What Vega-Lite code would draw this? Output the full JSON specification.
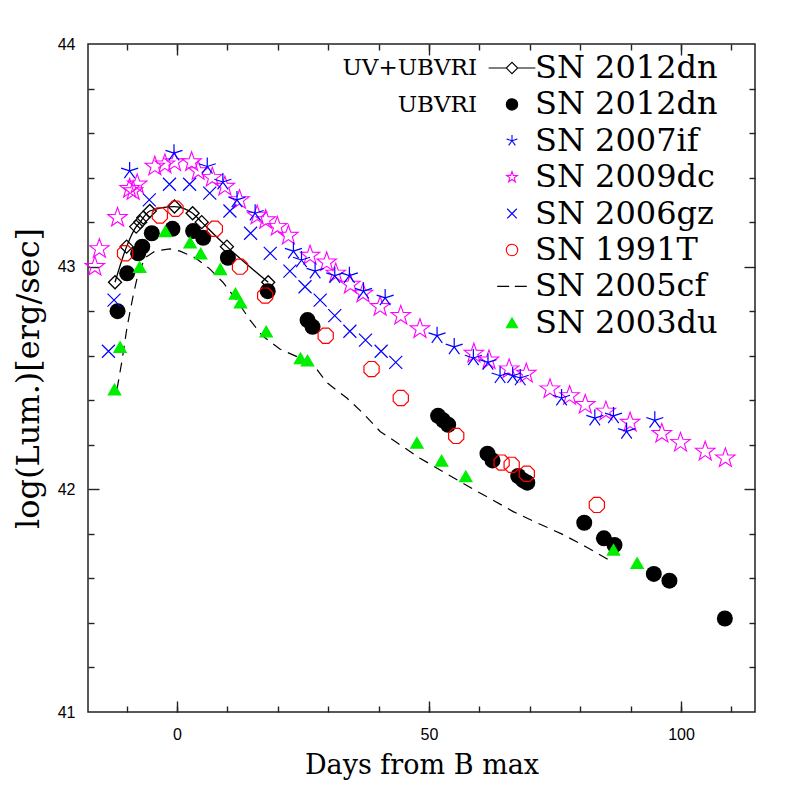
{
  "$schema": "https://vega.github.io/schema/vega-lite/v6.json",
  "width": 667,
  "height": 668,
  "autosize": "none",
  "padding": {"left": 88, "top": 44, "right": 42, "bottom": 85},
  "background": "white",
  "config": {
    "view": {"stroke": "#222", "strokeWidth": 1.5},
    "axis": {"grid": false, "domain": false, "labelColor": "black", "tickColor": "#222", "tickWidth": 1.4, "titleColor": "black", "titleFontWeight": "normal"}
  },
  "data": {"values": [
    {"sn": "SN 2012dn (UV+UBVRI)", "day": -12.3, "lum": 42.93},
    {"sn": "SN 2012dn (UV+UBVRI)", "day": -10.0, "lum": 43.09},
    {"sn": "SN 2012dn (UV+UBVRI)", "day": -8.1, "lum": 43.18},
    {"sn": "SN 2012dn (UV+UBVRI)", "day": -7.3, "lum": 43.20},
    {"sn": "SN 2012dn (UV+UBVRI)", "day": -6.7, "lum": 43.22},
    {"sn": "SN 2012dn (UV+UBVRI)", "day": -5.4, "lum": 43.25},
    {"sn": "SN 2012dn (UV+UBVRI)", "day": -0.5, "lum": 43.27},
    {"sn": "SN 2012dn (UV+UBVRI)", "day": 3.1, "lum": 43.24},
    {"sn": "SN 2012dn (UV+UBVRI)", "day": 4.9, "lum": 43.20},
    {"sn": "SN 2012dn (UV+UBVRI)", "day": 9.9, "lum": 43.09},
    {"sn": "SN 2012dn (UV+UBVRI)", "day": 18.1, "lum": 42.93},
    {"sn": "SN 2012dn (UBVRI)", "day": -11.8, "lum": 42.80},
    {"sn": "SN 2012dn (UBVRI)", "day": -9.9, "lum": 42.97},
    {"sn": "SN 2012dn (UBVRI)", "day": -7.7, "lum": 43.06},
    {"sn": "SN 2012dn (UBVRI)", "day": -6.9, "lum": 43.09},
    {"sn": "SN 2012dn (UBVRI)", "day": -5.0, "lum": 43.15},
    {"sn": "SN 2012dn (UBVRI)", "day": -0.9, "lum": 43.17},
    {"sn": "SN 2012dn (UBVRI)", "day": 3.2, "lum": 43.16},
    {"sn": "SN 2012dn (UBVRI)", "day": 5.2, "lum": 43.13},
    {"sn": "SN 2012dn (UBVRI)", "day": 10.1, "lum": 43.04},
    {"sn": "SN 2012dn (UBVRI)", "day": 18.0, "lum": 42.89},
    {"sn": "SN 2012dn (UBVRI)", "day": 25.9, "lum": 42.76},
    {"sn": "SN 2012dn (UBVRI)", "day": 26.9, "lum": 42.73},
    {"sn": "SN 2012dn (UBVRI)", "day": 51.8, "lum": 42.33},
    {"sn": "SN 2012dn (UBVRI)", "day": 52.8, "lum": 42.31},
    {"sn": "SN 2012dn (UBVRI)", "day": 53.8, "lum": 42.29},
    {"sn": "SN 2012dn (UBVRI)", "day": 61.6, "lum": 42.16},
    {"sn": "SN 2012dn (UBVRI)", "day": 62.6, "lum": 42.13},
    {"sn": "SN 2012dn (UBVRI)", "day": 67.7, "lum": 42.06},
    {"sn": "SN 2012dn (UBVRI)", "day": 68.7, "lum": 42.04},
    {"sn": "SN 2012dn (UBVRI)", "day": 69.5, "lum": 42.03},
    {"sn": "SN 2012dn (UBVRI)", "day": 80.8, "lum": 41.85},
    {"sn": "SN 2012dn (UBVRI)", "day": 84.7, "lum": 41.78},
    {"sn": "SN 2012dn (UBVRI)", "day": 86.8, "lum": 41.75},
    {"sn": "SN 2012dn (UBVRI)", "day": 94.6, "lum": 41.62},
    {"sn": "SN 2012dn (UBVRI)", "day": 97.7, "lum": 41.59},
    {"sn": "SN 2012dn (UBVRI)", "day": 108.7, "lum": 41.42},
    {"sn": "SN 2007if", "day": -9.4, "lum": 43.43},
    {"sn": "SN 2007if", "day": -0.6, "lum": 43.51},
    {"sn": "SN 2007if", "day": 6.0, "lum": 43.45},
    {"sn": "SN 2007if", "day": 9.1, "lum": 43.38},
    {"sn": "SN 2007if", "day": 11.9, "lum": 43.30},
    {"sn": "SN 2007if", "day": 15.5, "lum": 43.24},
    {"sn": "SN 2007if", "day": 23.1, "lum": 43.07},
    {"sn": "SN 2007if", "day": 24.7, "lum": 43.03},
    {"sn": "SN 2007if", "day": 27.4, "lum": 42.98},
    {"sn": "SN 2007if", "day": 31.3, "lum": 42.96},
    {"sn": "SN 2007if", "day": 34.2, "lum": 42.96},
    {"sn": "SN 2007if", "day": 37.0, "lum": 42.89},
    {"sn": "SN 2007if", "day": 41.3, "lum": 42.86},
    {"sn": "SN 2007if", "day": 51.6, "lum": 42.69},
    {"sn": "SN 2007if", "day": 55.0, "lum": 42.64},
    {"sn": "SN 2007if", "day": 58.8, "lum": 42.59},
    {"sn": "SN 2007if", "day": 61.7, "lum": 42.57},
    {"sn": "SN 2007if", "day": 64.1, "lum": 42.51},
    {"sn": "SN 2007if", "day": 66.6, "lum": 42.51},
    {"sn": "SN 2007if", "day": 68.1, "lum": 42.50},
    {"sn": "SN 2007if", "day": 76.3, "lum": 42.41},
    {"sn": "SN 2007if", "day": 82.9, "lum": 42.32},
    {"sn": "SN 2007if", "day": 86.6, "lum": 42.33},
    {"sn": "SN 2007if", "day": 89.2, "lum": 42.26},
    {"sn": "SN 2007if", "day": 94.8, "lum": 42.31},
    {"sn": "SN 2009dc", "day": -16.3, "lum": 43.00},
    {"sn": "SN 2009dc", "day": -15.4, "lum": 43.08},
    {"sn": "SN 2009dc", "day": -11.8, "lum": 43.22},
    {"sn": "SN 2009dc", "day": -9.4, "lum": 43.35},
    {"sn": "SN 2009dc", "day": -8.7, "lum": 43.34},
    {"sn": "SN 2009dc", "day": -7.9, "lum": 43.37},
    {"sn": "SN 2009dc", "day": -4.4, "lum": 43.45},
    {"sn": "SN 2009dc", "day": -2.4, "lum": 43.46},
    {"sn": "SN 2009dc", "day": -0.5, "lum": 43.47},
    {"sn": "SN 2009dc", "day": 2.9, "lum": 43.47},
    {"sn": "SN 2009dc", "day": 4.2, "lum": 43.43},
    {"sn": "SN 2009dc", "day": 7.0, "lum": 43.40},
    {"sn": "SN 2009dc", "day": 9.5, "lum": 43.36},
    {"sn": "SN 2009dc", "day": 12.4, "lum": 43.30},
    {"sn": "SN 2009dc", "day": 15.9, "lum": 43.23},
    {"sn": "SN 2009dc", "day": 17.6, "lum": 43.21},
    {"sn": "SN 2009dc", "day": 19.9, "lum": 43.18},
    {"sn": "SN 2009dc", "day": 22.1, "lum": 43.14},
    {"sn": "SN 2009dc", "day": 26.4, "lum": 43.05},
    {"sn": "SN 2009dc", "day": 29.7, "lum": 43.02},
    {"sn": "SN 2009dc", "day": 31.5, "lum": 42.97},
    {"sn": "SN 2009dc", "day": 34.4, "lum": 42.92},
    {"sn": "SN 2009dc", "day": 36.9, "lum": 42.88},
    {"sn": "SN 2009dc", "day": 40.3, "lum": 42.82},
    {"sn": "SN 2009dc", "day": 44.4, "lum": 42.78},
    {"sn": "SN 2009dc", "day": 48.2, "lum": 42.72},
    {"sn": "SN 2009dc", "day": 58.9, "lum": 42.61},
    {"sn": "SN 2009dc", "day": 61.9, "lum": 42.58},
    {"sn": "SN 2009dc", "day": 65.9, "lum": 42.54},
    {"sn": "SN 2009dc", "day": 69.3, "lum": 42.52},
    {"sn": "SN 2009dc", "day": 74.0, "lum": 42.45},
    {"sn": "SN 2009dc", "day": 77.9, "lum": 42.42},
    {"sn": "SN 2009dc", "day": 81.0, "lum": 42.38},
    {"sn": "SN 2009dc", "day": 85.1, "lum": 42.35},
    {"sn": "SN 2009dc", "day": 89.9, "lum": 42.30},
    {"sn": "SN 2009dc", "day": 96.2, "lum": 42.25},
    {"sn": "SN 2009dc", "day": 99.9, "lum": 42.21},
    {"sn": "SN 2009dc", "day": 104.8, "lum": 42.17},
    {"sn": "SN 2009dc", "day": 108.8, "lum": 42.14},
    {"sn": "SN 2006gz", "day": -13.6, "lum": 42.62},
    {"sn": "SN 2006gz", "day": -12.5, "lum": 42.85},
    {"sn": "SN 2006gz", "day": -5.5, "lum": 43.30},
    {"sn": "SN 2006gz", "day": -1.5, "lum": 43.37},
    {"sn": "SN 2006gz", "day": 2.5, "lum": 43.37},
    {"sn": "SN 2006gz", "day": 6.5, "lum": 43.33},
    {"sn": "SN 2006gz", "day": 10.5, "lum": 43.25},
    {"sn": "SN 2006gz", "day": 14.6, "lum": 43.15},
    {"sn": "SN 2006gz", "day": 18.5, "lum": 43.06},
    {"sn": "SN 2006gz", "day": 22.4, "lum": 42.98},
    {"sn": "SN 2006gz", "day": 25.4, "lum": 42.91},
    {"sn": "SN 2006gz", "day": 28.4, "lum": 42.85},
    {"sn": "SN 2006gz", "day": 31.3, "lum": 42.78},
    {"sn": "SN 2006gz", "day": 34.3, "lum": 42.71},
    {"sn": "SN 2006gz", "day": 37.4, "lum": 42.67},
    {"sn": "SN 2006gz", "day": 40.5, "lum": 42.62},
    {"sn": "SN 2006gz", "day": 43.4, "lum": 42.57},
    {"sn": "SN 1991T", "day": -10.3, "lum": 43.06},
    {"sn": "SN 1991T", "day": -3.4, "lum": 43.23},
    {"sn": "SN 1991T", "day": -0.3, "lum": 43.26},
    {"sn": "SN 1991T", "day": 7.5, "lum": 43.17},
    {"sn": "SN 1991T", "day": 12.5, "lum": 43.00},
    {"sn": "SN 1991T", "day": 17.5, "lum": 42.87},
    {"sn": "SN 1991T", "day": 29.5, "lum": 42.69},
    {"sn": "SN 1991T", "day": 38.6, "lum": 42.54},
    {"sn": "SN 1991T", "day": 44.4, "lum": 42.41},
    {"sn": "SN 1991T", "day": 55.4, "lum": 42.24},
    {"sn": "SN 1991T", "day": 64.4, "lum": 42.12},
    {"sn": "SN 1991T", "day": 66.4, "lum": 42.11},
    {"sn": "SN 1991T", "day": 69.4, "lum": 42.07},
    {"sn": "SN 1991T", "day": 83.3, "lum": 41.93},
    {"sn": "SN 2003du", "day": -12.4, "lum": 42.45},
    {"sn": "SN 2003du", "day": -11.3, "lum": 42.64},
    {"sn": "SN 2003du", "day": -7.4, "lum": 43.00},
    {"sn": "SN 2003du", "day": -2.3, "lum": 43.16},
    {"sn": "SN 2003du", "day": 2.6, "lum": 43.11},
    {"sn": "SN 2003du", "day": 4.7, "lum": 43.06},
    {"sn": "SN 2003du", "day": 8.6, "lum": 42.99},
    {"sn": "SN 2003du", "day": 11.6, "lum": 42.88},
    {"sn": "SN 2003du", "day": 12.6, "lum": 42.84},
    {"sn": "SN 2003du", "day": 17.7, "lum": 42.71},
    {"sn": "SN 2003du", "day": 24.5, "lum": 42.59},
    {"sn": "SN 2003du", "day": 25.9, "lum": 42.58},
    {"sn": "SN 2003du", "day": 47.6, "lum": 42.21},
    {"sn": "SN 2003du", "day": 52.5, "lum": 42.13},
    {"sn": "SN 2003du", "day": 57.3, "lum": 42.06},
    {"sn": "SN 2003du", "day": 86.6, "lum": 41.73},
    {"sn": "SN 2003du", "day": 91.3, "lum": 41.67},
    {"sn": "SN 2005cf", "day": -11.9, "lum": 42.45},
    {"sn": "SN 2005cf", "day": -10.9, "lum": 42.58},
    {"sn": "SN 2005cf", "day": -9.9, "lum": 42.73},
    {"sn": "SN 2005cf", "day": -8.7, "lum": 42.87},
    {"sn": "SN 2005cf", "day": -7.7, "lum": 42.97},
    {"sn": "SN 2005cf", "day": -6.3, "lum": 43.04},
    {"sn": "SN 2005cf", "day": -4.4, "lum": 43.07},
    {"sn": "SN 2005cf", "day": -1.4, "lum": 43.08},
    {"sn": "SN 2005cf", "day": 0.6, "lum": 43.07},
    {"sn": "SN 2005cf", "day": 3.6, "lum": 43.04},
    {"sn": "SN 2005cf", "day": 6.5, "lum": 42.99},
    {"sn": "SN 2005cf", "day": 9.1, "lum": 42.93},
    {"sn": "SN 2005cf", "day": 11.8, "lum": 42.85},
    {"sn": "SN 2005cf", "day": 14.5, "lum": 42.76},
    {"sn": "SN 2005cf", "day": 16.9, "lum": 42.69},
    {"sn": "SN 2005cf", "day": 20.4, "lum": 42.63},
    {"sn": "SN 2005cf", "day": 24.4, "lum": 42.59},
    {"sn": "SN 2005cf", "day": 27.7, "lum": 42.54},
    {"sn": "SN 2005cf", "day": 29.7, "lum": 42.48},
    {"sn": "SN 2005cf", "day": 33.7, "lum": 42.41},
    {"sn": "SN 2005cf", "day": 37.0, "lum": 42.34},
    {"sn": "SN 2005cf", "day": 40.3, "lum": 42.26},
    {"sn": "SN 2005cf", "day": 43.6, "lum": 42.21},
    {"sn": "SN 2005cf", "day": 48.2, "lum": 42.14},
    {"sn": "SN 2005cf", "day": 53.5, "lum": 42.07},
    {"sn": "SN 2005cf", "day": 58.8, "lum": 42.00},
    {"sn": "SN 2005cf", "day": 62.8, "lum": 41.95},
    {"sn": "SN 2005cf", "day": 66.7, "lum": 41.90},
    {"sn": "SN 2005cf", "day": 71.4, "lum": 41.85},
    {"sn": "SN 2005cf", "day": 76.3, "lum": 41.80},
    {"sn": "SN 2005cf", "day": 81.3, "lum": 41.74},
    {"sn": "SN 2005cf", "day": 85.9, "lum": 41.68}
  ]},
  "resolve": {"axis": {"x": "independent", "y": "independent"}},
  "layer": [
    {
      "transform": [{"filter": "datum.sn === 'SN 2005cf'"}],
      "mark": {"type": "line", "stroke": "black", "strokeWidth": 1.2, "strokeDash": [10, 7]},
      "encoding": {
        "x": {"field": "day", "type": "quantitative", "scale": {"domain": [-17.66, 114.68], "nice": false, "zero": false},
          "axis": {"orient": "bottom", "values": [0, 50, 100], "ticks": false, "domain": false, "labelFlush": false, "labelFont": "Liberation Sans", "labelFontSize": 16, "labelPadding": 14, "title": "Days from B max", "titleFont": "DejaVu Serif", "titleFontSize": 27, "titlePadding": 10}},
        "y": {"field": "lum", "type": "quantitative", "scale": {"domain": [41, 44], "nice": false, "zero": false},
          "axis": {"orient": "left", "values": [41, 42, 43, 44], "ticks": false, "domain": false, "labelFlush": false, "labelFont": "Liberation Sans", "labelFontSize": 16, "labelPadding": 13, "title": "log(Lum.)[erg/sec]", "titleFont": "DejaVu Serif", "titleFontSize": 32, "titlePadding": 12}}
      }
    },
    {
      "transform": [{"filter": "datum.sn === 'SN 2012dn (UV+UBVRI)'"}],
      "mark": {"type": "line", "stroke": "black", "strokeWidth": 1.3, "interpolate": "monotone"},
      "encoding": {
        "x": {"field": "day", "type": "quantitative", "scale": {"domain": [-17.66, 114.68], "nice": false, "zero": false},
          "axis": {"orient": "bottom", "values": [-10, 0, 10, 20, 30, 40, 50, 60, 70, 80, 90, 100, 110], "tickSize": -6, "labels": false, "domain": false, "title": null}},
        "y": {"field": "lum", "type": "quantitative", "scale": {"domain": [41, 44], "nice": false, "zero": false},
          "axis": {"orient": "left", "values": [41.2, 41.4, 41.6, 41.8, 42.2, 42.4, 42.6, 42.8, 43.2, 43.4, 43.6, 43.8], "tickSize": -6, "labels": false, "domain": false, "title": null}}
      }
    },
    {
      "transform": [{"filter": "datum.sn === 'SN 2012dn (UV+UBVRI)'"}],
      "mark": {"type": "point", "shape": "diamond", "filled": false, "stroke": "black", "strokeWidth": 1.3, "size": 170, "opacity": 1},
      "encoding": {
        "x": {"field": "day", "type": "quantitative", "scale": {"domain": [-17.66, 114.68], "nice": false, "zero": false},
          "axis": {"orient": "bottom", "values": [0, 50, 100], "tickSize": -11, "labels": false, "domain": false, "title": null}},
        "y": {"field": "lum", "type": "quantitative", "scale": {"domain": [41, 44], "nice": false, "zero": false},
          "axis": {"orient": "left", "values": [42, 43], "tickSize": -11, "labels": false, "domain": false, "title": null}}
      }
    },
    {
      "transform": [{"filter": "datum.sn === 'SN 2012dn (UBVRI)'"}],
      "mark": {"type": "point", "shape": "circle", "filled": true, "fill": "black", "size": 256, "opacity": 1},
      "encoding": {
        "x": {"field": "day", "type": "quantitative", "scale": {"domain": [-17.66, 114.68], "nice": false, "zero": false},
          "axis": {"orient": "top", "values": [-10, 0, 10, 20, 30, 40, 50, 60, 70, 80, 90, 100, 110], "tickSize": -6, "labels": false, "domain": false, "title": null}},
        "y": {"field": "lum", "type": "quantitative", "scale": {"domain": [41, 44], "nice": false, "zero": false},
          "axis": {"orient": "right", "values": [41.2, 41.4, 41.6, 41.8, 42.2, 42.4, 42.6, 42.8, 43.2, 43.4, 43.6, 43.8], "tickSize": -6, "labels": false, "domain": false, "title": null}}
      }
    },
    {
      "transform": [{"filter": "datum.sn === 'SN 2009dc'"}],
      "mark": {"type": "point", "shape": "M0,-1L0.235,-0.324L0.951,-0.309L0.38,0.124L0.588,0.809L0,0.4L-0.588,0.809L-0.38,0.124L-0.951,-0.309L-0.235,-0.324Z", "filled": false, "stroke": "magenta", "strokeWidth": 1.1, "size": 420, "opacity": 1},
      "encoding": {
        "x": {"field": "day", "type": "quantitative", "scale": {"domain": [-17.66, 114.68], "nice": false, "zero": false}, "axis": null},
        "y": {"field": "lum", "type": "quantitative", "scale": {"domain": [41, 44], "nice": false, "zero": false}, "axis": null}
      }
    },
    {
      "transform": [{"filter": "datum.sn === 'SN 2007if'"}],
      "mark": {"type": "point", "shape": "M0,0L0,-1M0,0L0.951,-0.309M0,0L-0.951,-0.309M0,0L0.588,0.809M0,0L-0.588,0.809", "filled": false, "stroke": "blue", "strokeWidth": 1.2, "size": 320, "opacity": 1},
      "encoding": {
        "x": {"field": "day", "type": "quantitative", "scale": {"domain": [-17.66, 114.68], "nice": false, "zero": false},
          "axis": {"orient": "top", "values": [0, 50, 100], "tickSize": -11, "labels": false, "domain": false, "title": null}},
        "y": {"field": "lum", "type": "quantitative", "scale": {"domain": [41, 44], "nice": false, "zero": false},
          "axis": {"orient": "right", "values": [42, 43], "tickSize": -11, "labels": false, "domain": false, "title": null}}
      }
    },
    {
      "transform": [{"filter": "datum.sn === 'SN 2006gz'"}],
      "mark": {"type": "point", "shape": "M-1,-1L1,1M-1,1L1,-1", "filled": false, "stroke": "blue", "strokeWidth": 1.2, "size": 169, "opacity": 1},
      "encoding": {
        "x": {"field": "day", "type": "quantitative", "scale": {"domain": [-17.66, 114.68], "nice": false, "zero": false}, "axis": null},
        "y": {"field": "lum", "type": "quantitative", "scale": {"domain": [41, 44], "nice": false, "zero": false}, "axis": null}
      }
    },
    {
      "transform": [{"filter": "datum.sn === 'SN 1991T'"}],
      "mark": {"type": "point", "shape": "M0.383,-0.924L0.924,-0.383L0.924,0.383L0.383,0.924L-0.383,0.924L-0.924,0.383L-0.924,-0.383L-0.383,-0.924Z", "filled": false, "stroke": "red", "strokeWidth": 1.2, "size": 270, "opacity": 1},
      "encoding": {
        "x": {"field": "day", "type": "quantitative", "scale": {"domain": [-17.66, 114.68], "nice": false, "zero": false}, "axis": null},
        "y": {"field": "lum", "type": "quantitative", "scale": {"domain": [41, 44], "nice": false, "zero": false}, "axis": null}
      }
    },
    {
      "transform": [{"filter": "datum.sn === 'SN 2003du'"}],
      "mark": {"type": "point", "shape": "triangle-up", "filled": true, "fill": "#00ee00", "size": 210, "opacity": 1},
      "encoding": {
        "x": {"field": "day", "type": "quantitative", "scale": {"domain": [-17.66, 114.68], "nice": false, "zero": false}, "axis": null},
        "y": {"field": "lum", "type": "quantitative", "scale": {"domain": [41, 44], "nice": false, "zero": false}, "axis": null}
      }
    },
    {
      "transform": [{"filter": "false"}],
      "mark": {"type": "point", "strokeWidth": 1.1, "opacity": 1},
      "encoding": {
        "x": {"field": "day", "type": "quantitative", "scale": {"domain": [-17.66, 114.68], "nice": false, "zero": false}, "axis": null},
        "y": {"field": "lum", "type": "quantitative", "scale": {"domain": [41, 44], "nice": false, "zero": false}, "axis": null},
        "shape": {"field": "sn", "type": "nominal",
          "scale": {"domain": ["SN 2012dn (UV+UBVRI)", "SN 2012dn (UBVRI)", "SN 2007if", "SN 2009dc", "SN 2006gz", "SN 1991T", "SN 2005cf", "SN 2003du"],
            "range": ["M-4.1,0L-1,0M1,0L4.1,0M-1,0L0,-1L1,0L0,1Z", "circle", "M0,0L0,-1M0,0L0.951,-0.309M0,0L-0.951,-0.309M0,0L0.588,0.809M0,0L-0.588,0.809", "M0,-1L0.235,-0.324L0.951,-0.309L0.38,0.124L0.588,0.809L0,0.4L-0.588,0.809L-0.38,0.124L-0.951,-0.309L-0.235,-0.324Z", "M-0.85,-0.85L0.85,0.85M-0.85,0.85L0.85,-0.85", "circle", "M-2.6,0L-0.5,0M0.5,0L2.6,0", "triangle-up"]},
          "legend": {"title": null, "orient": "none", "legendX": 408, "legendY": 8, "direction": "vertical", "padding": 0, "labelFont": "DejaVu Serif", "labelFontSize": 32, "labelColor": "black", "labelLimit": 400, "labelOffset": 7, "labelBaseline": "middle", "symbolSize": 130, "symbolStrokeWidth": 1.1, "symbolOpacity": 1, "rowPadding": 4.4, "labelExpr": "slice(datum.label, 0, 9)"}},
        "stroke": {"field": "sn", "type": "nominal",
          "scale": {"domain": ["SN 2012dn (UV+UBVRI)", "SN 2012dn (UBVRI)", "SN 2007if", "SN 2009dc", "SN 2006gz", "SN 1991T", "SN 2005cf", "SN 2003du"],
            "range": ["black", "black", "blue", "magenta", "blue", "red", "black", "#00ee00"]},
          "legend": {"title": null, "orient": "none", "legendX": 408, "legendY": 8, "direction": "vertical", "padding": 0, "labelFont": "DejaVu Serif", "labelFontSize": 32, "labelColor": "black", "labelLimit": 400, "labelOffset": 7, "labelBaseline": "middle", "symbolSize": 130, "symbolStrokeWidth": 1.1, "symbolOpacity": 1, "rowPadding": 4.4, "labelExpr": "slice(datum.label, 0, 9)"}},
        "fill": {"field": "sn", "type": "nominal",
          "scale": {"domain": ["SN 2012dn (UV+UBVRI)", "SN 2012dn (UBVRI)", "SN 2007if", "SN 2009dc", "SN 2006gz", "SN 1991T", "SN 2005cf", "SN 2003du"],
            "range": ["transparent", "black", "transparent", "transparent", "transparent", "transparent", "transparent", "#00ee00"]},
          "legend": {"title": null, "orient": "none", "legendX": 408, "legendY": 8, "direction": "vertical", "padding": 0, "labelFont": "DejaVu Serif", "labelFontSize": 32, "labelColor": "black", "labelLimit": 400, "labelOffset": 7, "labelBaseline": "middle", "symbolSize": 130, "symbolStrokeWidth": 1.1, "symbolOpacity": 1, "rowPadding": 4.4, "labelExpr": "slice(datum.label, 0, 9)"}},
        "opacity": {"field": "band", "type": "ordinal",
          "scale": {"domain": ["UV+UBVRI", "UBVRI"], "range": [1, 1]},
          "legend": {"title": null, "orient": "none", "legendX": 366, "legendY": 12.5, "direction": "vertical", "padding": 0, "labelFont": "DejaVu Serif", "labelFontSize": 23, "labelColor": "black", "labelLimit": 400, "labelOffset": 0, "labelAlign": "right", "labelBaseline": "middle", "symbolSize": 0, "symbolStrokeWidth": 0, "symbolOpacity": 0, "rowPadding": 13.4}}
      }
    }
  ]
}
